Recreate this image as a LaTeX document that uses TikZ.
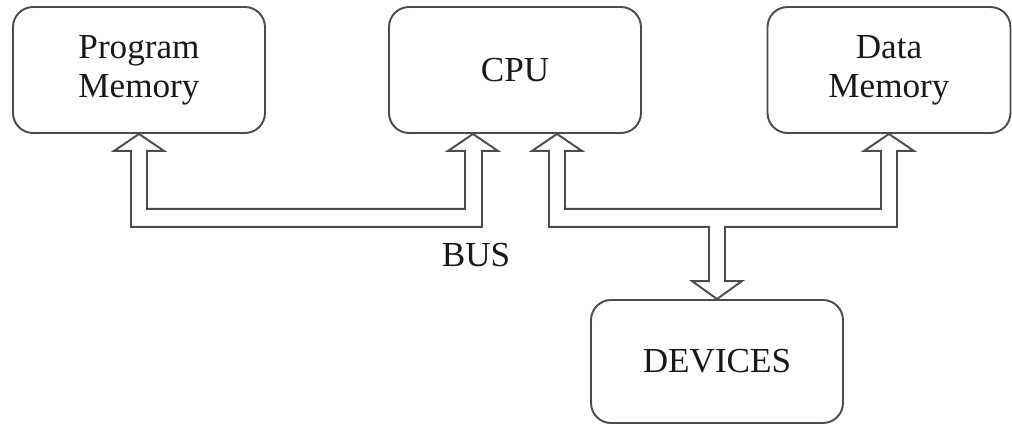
\documentclass[tikz,border=0pt]{standalone}
\usepackage{fontspec}
\setmainfont{Liberation Serif}
\usetikzlibrary{calc}

\begin{document}
\begin{tikzpicture}[x=0.02cm, y=-0.02cm,
  unit/.style={draw=black!70, line width=1.1pt, rounded corners=0.4cm, align=center,
    minimum width=5.04cm, minimum height=2.52cm, inner sep=0pt, text=black!90,
    font=\fontsize{20}{22}\selectfont},
  bus/.style={draw=black!70, line width=1.1pt, line join=miter}]
\useasboundingbox (0,0) rectangle (1012,424);

\node[unit] (pm) at (139,70) {Program\\Memory};
\node[unit] (cpu) at (515,70) {CPU};
\node[unit, minimum width=4.86cm] (dm) at (889,70) {Data\\Memory};
\node[unit, minimum height=2.46cm] (dev) at (717,361.5) {DEVICES};

% program memory <-> cpu
\draw[bus] (pm.south) -- ++(25,17) -- ++(-17,0) |- ($(cpu.south)+(-50,75)$) -- ++(0,-58) -- ++(-17,0) -- ++(25,-17) -- ++(25,17) -- ++(-16,0) -- ++(0,76) -| ($(pm.south)+(-8,17)$) -- ++(-17,0) -- cycle;

% cpu <-> data memory, with the branch down to the devices
\draw[bus] ($(cpu.south)+(42,0)$) -- ++(25,17) -- ++(-17,0) |- ($(dm.south)+(-8,75)$) -- ++(0,-58) -- ++(-17,0) -- ++(25,-17) -- ++(25,17) -- ++(-17,0) -- ++(0,76) -| ($(dev.north)+(8,-18)$) -- ++(17,0) -- ++(-25,18) -- ++(-25,-18) -- ++(17,0) |- ($(cpu.south)+(34,93)$) -- ++(0,-76) -- ++(-17,0) -- cycle;

\node[text=black!90, font=\fontsize{20}{22}\selectfont] (buslbl) at (476,255) {BUS};

\end{tikzpicture}
\end{document}
